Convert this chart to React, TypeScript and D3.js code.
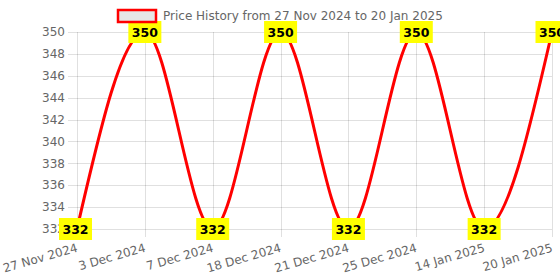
import React, { useEffect, useRef } from "react";
import * as d3 from "d3";

const dates = ["27 Nov 2024", "3 Dec 2024", "7 Dec 2024", "18 Dec 2024", "21 Dec 2024", "25 Dec 2024", "14 Jan 2025", "20 Jan 2025"];
const prices = [332, 350, 332, 350, 332, 350, 332, 350];
const yTicks = [332, 334, 336, 338, 340, 342, 344, 346, 348, 350];
const legendLabel = "Price History from 27 Nov 2024 to 20 Jan 2025";

const App = () => {
    const ref = useRef<SVGSVGElement>(null);

    useEffect(() => {
        const width = 560;
        const height = 280;
        const m = { left: 77, right: 8, top: 32, bottom: 51 };
        const font = "DejaVu Sans, sans-serif";
        const svg = d3.select(ref.current).attr("width", width).attr("height", height);
        svg.selectAll("*").remove();

        const x = d3.scalePoint().domain(dates).range([m.left, width - m.right]);
        const y = d3.scaleLinear().domain([332, 350]).range([height - m.bottom, m.top]);

        // grid
        const grid = svg.append("g").attr("stroke", "rgba(0,0,0,0.12)").attr("stroke-width", 1);
        grid.selectAll("line.h")
            .data(yTicks)
            .join("line")
            .attr("x1", m.left - 9)
            .attr("x2", width - m.right)
            .attr("y1", (d) => Math.round(y(d)) + 0.5)
            .attr("y2", (d) => Math.round(y(d)) + 0.5);
        grid.selectAll("line.v")
            .data(dates)
            .join("line")
            .attr("x1", (d) => Math.round(x(d)!) + 0.5)
            .attr("x2", (d) => Math.round(x(d)!) + 0.5)
            .attr("y1", m.top)
            .attr("y2", height - m.bottom + 8);

        // y labels
        svg.append("g")
            .selectAll("text")
            .data(yTicks)
            .join("text")
            .attr("x", m.left - 12)
            .attr("y", (d) => y(d))
            .attr("dy", "0.35em")
            .attr("text-anchor", "end")
            .attr("font-family", font)
            .attr("font-size", 12)
            .attr("fill", "#666")
            .text((d) => d);

        // x labels
        svg.append("g")
            .selectAll("text")
            .data(dates)
            .join("text")
            .attr("transform", (d) => `translate(${x(d)! - 1},${height - m.bottom + 14}) rotate(-16)`)
            .attr("text-anchor", "end")
            .attr("dy", "0.72em")
            .attr("font-family", font)
            .attr("font-size", 12)
            .attr("fill", "#666")
            .text((d) => d);

        // line
        const line = d3.line<number>()
            .x((_, i) => x(dates[i])!)
            .y((d) => y(d))
            .curve(d3.curveMonotoneX);
        svg.append("path")
            .datum(prices)
            .attr("d", line)
            .attr("fill", "none")
            .attr("stroke", "red")
            .attr("stroke-width", 3);

        // data labels
        const labels = svg.append("g")
            .selectAll("g")
            .data(prices)
            .join("g")
            .attr("transform", (d, i) => `translate(${x(dates[i])! - (i === 0 ? 1.5 : 0)},${y(d)})`);
        labels.append("rect")
            .attr("x", -16.5)
            .attr("y", -11)
            .attr("width", 33)
            .attr("height", 22)
            .attr("fill", "yellow");
        labels.append("text")
            .attr("text-anchor", "middle")
            .attr("dy", "0.36em")
            .attr("font-family", font)
            .attr("font-size", 12.5)
            .attr("font-weight", "bold")
            .attr("fill", "black")
            .text((d) => d);

        // legend
        const legend = svg.append("g");
        legend.append("rect")
            .attr("x", 118)
            .attr("y", 10)
            .attr("width", 38)
            .attr("height", 12)
            .attr("fill", "#e6e6e6")
            .attr("stroke", "red")
            .attr("stroke-width", 2.5);
        legend.append("text")
            .attr("x", 163)
            .attr("y", 16)
            .attr("dy", "0.35em")
            .attr("font-family", font)
            .attr("font-size", 12)
            .attr("fill", "#666")
            .text(legendLabel);
    }, []);

    return (
        <div>
            <svg ref={ref} style={{ position: "absolute", left: 0, top: 0 }}></svg>
        </div>
    );
};

export default App;
